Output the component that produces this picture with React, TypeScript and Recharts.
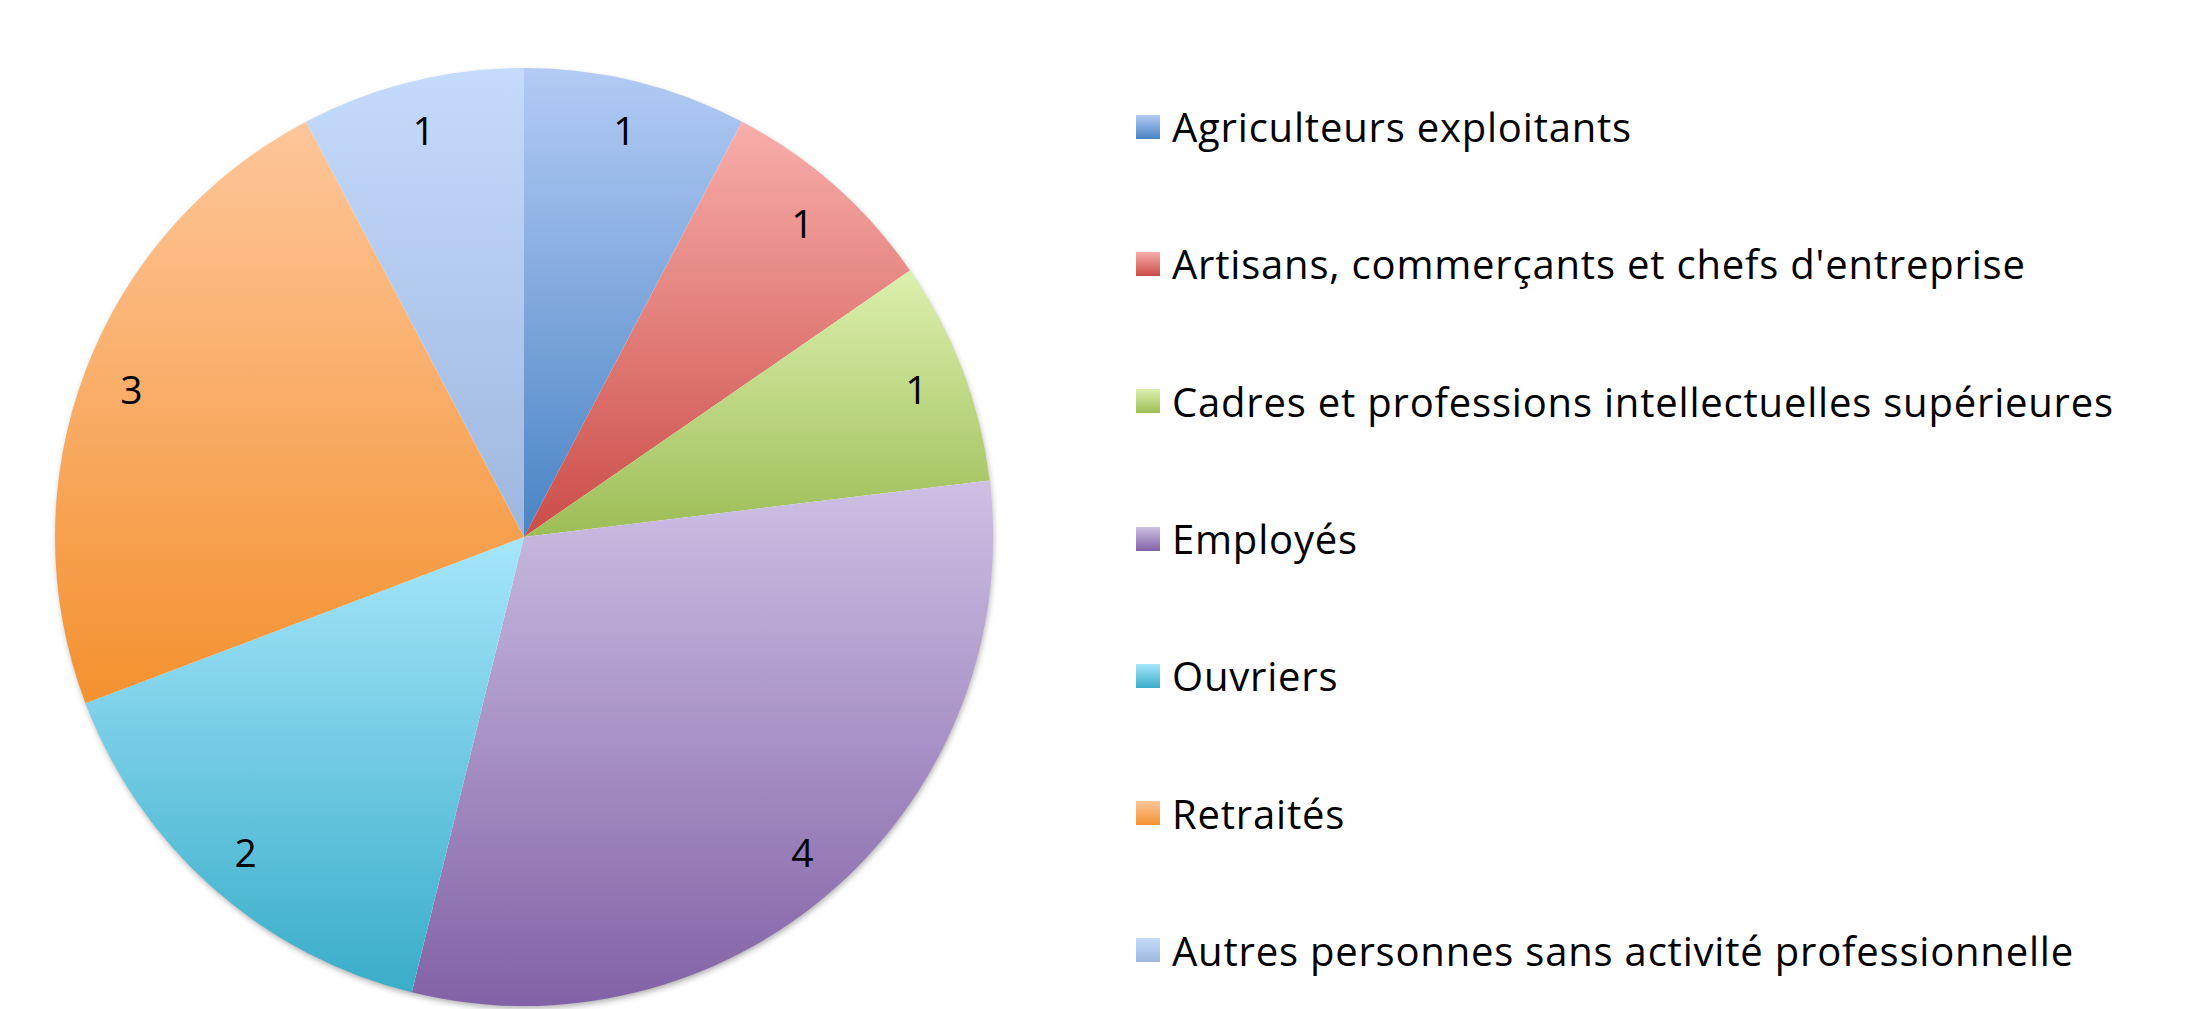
import React from 'react';
import { PieChart, Pie, Cell, Legend } from 'recharts';

const categories = [
  'Agriculteurs exploitants',
  "Artisans, commerçants et chefs d'entreprise",
  'Cadres et professions intellectuelles supérieures',
  'Employés',
  'Ouvriers',
  'Retraités',
  'Autres personnes sans activité professionnelle',
];
const counts = [1, 1, 1, 4, 2, 3, 1];

// light (top) -> dark (bottom) gradient stops per slice
const lightColors = ['#b3cbf5', '#f8aeaa', '#dbf0ae', '#cdc0e4', '#a6e6fb', '#fec69a', '#c4dbfd'];
const darkColors = ['#4a84c4', '#cb4c48', '#9dbd56', '#8262a6', '#39adc9', '#f4912f', '#9fb7de'];

const data = categories.map((name, i) => ({ name, value: counts[i] }));
const shadowData = [{ name: 'shadow', value: 1 }];

const FONT = '"Open Sans", "Noto Sans", sans-serif';
const RAD = Math.PI / 180;

const renderLabel = (props: any) => {
  const { cx, cy, midAngle, outerRadius, value } = props;
  const r = outerRadius * 0.895;
  const x = cx + r * Math.cos(-midAngle * RAD);
  const y = cy + r * Math.sin(-midAngle * RAD);
  return (
    <text x={x} y={y} fill="#000" textAnchor="middle" dominantBaseline="central" fontSize={39} fontFamily={FONT}>
      {value}
    </text>
  );
};

const renderLegend = () => (
  <div style={{ fontFamily: FONT, fontSize: 40, letterSpacing: 0.8, color: '#000' }}>
    {categories.map((name, i) => (
      <div key={name} style={{ display: 'flex', alignItems: 'center', height: 137.3 }}>
        <div
          style={{
            width: 24,
            height: 24,
            marginRight: 12,
            background: `linear-gradient(${lightColors[i]}, ${darkColors[i]})`,
          }}
        />
        <span>{name}</span>
      </div>
    ))}
  </div>
);

export default function App() {
  return (
    <div style={{ position: 'absolute', left: 0, top: 0, background: '#fff' }}>
      <PieChart width={2186} height={1009}>
        <defs>
          {lightColors.map((c, i) => (
            <linearGradient key={i} id={`grad-${i}`} x1="0" y1="0" x2="0" y2="1">
              <stop offset="0%" stopColor={c} />
              <stop offset="100%" stopColor={darkColors[i]} />
            </linearGradient>
          ))}
          <filter id="pieShadow" x="-5%" y="-5%" width="110%" height="110%">
            <feDropShadow dx="1" dy="3" stdDeviation="3" floodColor="#000" floodOpacity="0.35" />
          </filter>
        </defs>
        {/* soft shadow disc behind the pie */}
        <Pie
          data={shadowData}
          dataKey="value"
          cx={519}
          cy={532}
          outerRadius={468}
          stroke="none"
          isAnimationActive={false}
          legendType="none"
        >
          <Cell fill="#fff" filter="url(#pieShadow)" />
        </Pie>
        <Pie
          data={data}
          dataKey="value"
          nameKey="name"
          cx={519}
          cy={532}
          outerRadius={469}
          startAngle={90}
          endAngle={-270}
          stroke="none"
          label={renderLabel}
          labelLine={false}
          isAnimationActive={false}
        >
          {data.map((d, i) => (
            <Cell key={d.name} fill={`url(#grad-${i})`} />
          ))}
        </Pie>
        <Legend
          layout="vertical"
          verticalAlign="top"
          align="right"
          wrapperStyle={{ left: 1136, right: 'auto', top: 58 }}
          content={renderLegend}
        />
      </PieChart>
    </div>
  );
}
